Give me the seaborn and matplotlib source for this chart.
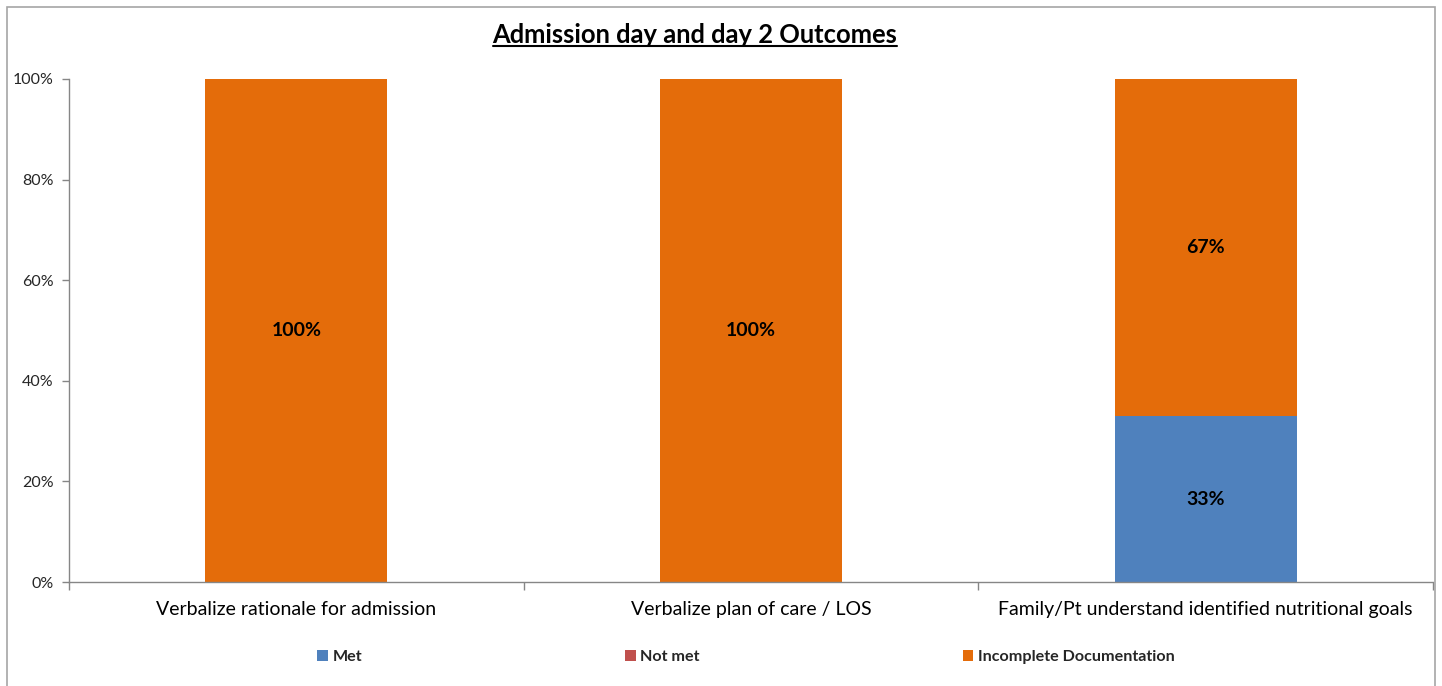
import matplotlib
matplotlib.use("Agg")
import matplotlib.pyplot as plt
import seaborn as sns
import pandas as pd
import numpy as np
from matplotlib.patches import Patch, Rectangle
from matplotlib.lines import Line2D

categories = ["Verbalize rationale for admission",
              "Verbalize plan of care / LOS",
              "Family/Pt understand identified nutritional goals"]
met = [0, 0, 33]
not_met = [0, 0, 0]
incomplete = [100, 100, 67]
series_names = ["Met", "Not met", "Incomplete Documentation"]
colors = ["#4F81BD", "#C0504D", "#E46C0A"]
yticks = [0, 20, 40, 60, 80, 100]
ytick_labels = ["0%", "20%", "40%", "60%", "80%", "100%"]
title = "Admission day and day 2 Outcomes"

sns.set_theme(style="white")
plt.rcParams["font.family"] = ["Lato", "DejaVu Sans"]

W, H = 1442, 686
fig = plt.figure(figsize=(W / 100, H / 100), dpi=100)
ax = fig.add_axes([69 / W, 1 - 582 / H, (1433 - 69) / W, (582 - 79) / H])

df = pd.DataFrame({"cat": categories, "met": met, "not_met": not_met, "inc": incomplete})
df["top_inc"] = df["met"] + df["not_met"] + df["inc"]
df["top_nm"] = df["met"] + df["not_met"]

sns.barplot(data=df, x="cat", y="top_inc", color=colors[2], width=0.4,
            saturation=1, ax=ax, linewidth=0)
sns.barplot(data=df, x="cat", y="top_nm", color=colors[1], width=0.4,
            saturation=1, ax=ax, linewidth=0)
sns.barplot(data=df, x="cat", y="met", color=colors[0], width=0.4,
            saturation=1, ax=ax, linewidth=0)

# labels
for i in range(len(categories)):
    bottoms = [0, met[i], met[i] + not_met[i]]
    vals = [met[i], not_met[i], incomplete[i]]
    for b, v in zip(bottoms, vals):
        if v > 0:
            ax.text(i, b + v / 2, f"{v}%", ha="center", va="center",
                    fontsize=14, fontweight="bold", color="black")

ax.set_xlim(-0.5, len(categories) - 0.5)
ax.set_ylim(0, 100)
ax.set_yticks(yticks)
ax.set_yticklabels(ytick_labels, fontsize=11.5)
ax.set_xticks(range(len(categories)))
ax.set_xticklabels(categories, fontsize=14)
ax.tick_params(axis="x", length=0, pad=14, colors="black")
ax.tick_params(axis="y", length=5, width=1, color="#868686", pad=6, left=True)
# category boundary ticks
ax.set_xticks(np.arange(-0.5, len(categories), 1), minor=True)
ax.tick_params(axis="x", which="minor", length=6, width=1, color="#868686", bottom=True)
ax.set_xlabel("")
ax.set_ylabel("")
for s in ["top", "right"]:
    ax.spines[s].set_visible(False)
for s in ["left", "bottom"]:
    ax.spines[s].set_color("#868686")
    ax.spines[s].set_linewidth(1)
ax.grid(False)

# title with underline
t = fig.text(695 / W, 1 - 35 / H, title, ha="center", va="center",
             fontsize=18.4, fontweight="bold", color="black")
fig.canvas.draw()
bb = t.get_window_extent(renderer=fig.canvas.get_renderer())
fig.add_artist(Line2D([bb.x0 / W, bb.x1 / W], [(bb.y0 + 1) / H, (bb.y0 + 1) / H],
                      transform=fig.transFigure, color="black", linewidth=1.5))

# legend
handles = [Patch(facecolor=c, edgecolor="none", label=n) for c, n in zip(colors, series_names)]
fs = 11.6
leg = fig.legend(handles=handles, loc="center", bbox_to_anchor=(746 / W, 1 - 657 / H),
                 ncol=3, frameon=False, handlelength=0.65, handleheight=0.65,
                 handletextpad=0.3, columnspacing=263 / (fs * 100 / 72),
                 prop={"size": fs, "weight": "bold"})

# outer border
fig.add_artist(Rectangle((7 / W, -0.05), (1435 - 7) / W, 1.05 - 7 / H,
                         transform=fig.transFigure, fill=False,
                         edgecolor="#a6a6a6", linewidth=1.2))

fig.savefig("out.png", dpi=100)
